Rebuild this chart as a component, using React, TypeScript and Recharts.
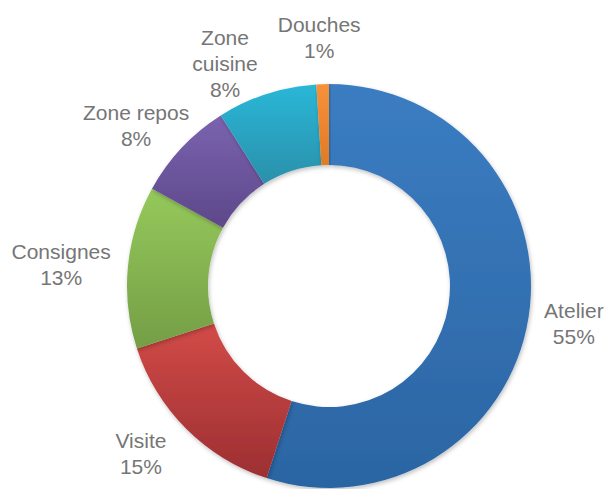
import { PieChart, Pie, Cell } from "recharts";

const categories = ["Atelier", "Visite", "Consignes", "Zone repos", "Zone cuisine", "Douches"];
const shares = [55, 15, 13, 8, 8, 1];
const pctLabels = ["55%", "15%", "13%", "8%", "8%", "1%"];
// label lines (Zone cuisine is wrapped on two lines in the source)
const labelLines = [["Atelier"], ["Visite"], ["Consignes"], ["Zone repos"], ["Zone", "cuisine"], ["Douches"]];
const topColors = ["#3b7dc2", "#d24b47", "#95c95b", "#7b63b0", "#2bb7d8", "#f7913a"];
const bottomColors = ["#2b65a3", "#9c2f32", "#749e45", "#5d4889", "#2b90aa", "#e07b25"];

const data = categories.map((name, i) => ({ name, value: shares[i] }));

const RAD = Math.PI / 180;
const FONT = 21;
const LINE = 26;
// hand-placed labels in the source, small nudges from the radial spot
const nudge = [[-7, -3], [-12, -9], [1, 3], [-5, 15], [-27, 14], [-2, 0]];

function renderLabel(props: any) {
  const { cx, cy, midAngle, index } = props;
  const lines = [...labelLines[index], pctLabels[index]];
  const longest = Math.max(...lines.map(l => l.length));
  const halfW = longest * FONT * 0.5 / 2;
  const c = Math.cos(-midAngle * RAD);
  const s = Math.sin(-midAngle * RAD);
  const r = 249 + Math.max(0, halfW * Math.abs(c) - 32) * 1.4;
  const x = cx + r * c + nudge[index][0];
  const y = cy + r * s + nudge[index][1];
  const top = y - ((lines.length - 1) * LINE) / 2;
  return (
    <text x={x} y={top} textAnchor="middle" dominantBaseline="central"
          fill="#767676" fontSize={FONT} fontFamily="'Liberation Sans', Arial, sans-serif">
      {lines.map((l, i) => (
        <tspan key={i} x={x} y={top + i * LINE} dominantBaseline="central">{l}</tspan>
      ))}
    </text>
  );
}

export default function App() {
  return (
    <div style={{ position: "fixed", left: 0, top: 0, width: 606, height: 489, background: "#fff" }}>
      <PieChart width={606} height={489} margin={{ top: 0, right: 0, bottom: 0, left: 0 }}>
        <defs>
          {categories.map((c, i) => (
            <linearGradient key={c} id={`slice-${i}`} x1="0" y1="0" x2="0" y2="1">
              <stop offset="0%" stopColor={topColors[i]} />
              <stop offset="100%" stopColor={bottomColors[i]} />
            </linearGradient>
          ))}
          <filter id="ringShadow" x="-10%" y="-10%" width="120%" height="120%">
            <feDropShadow dx="1" dy="2" stdDeviation="2" floodColor="#000" floodOpacity="0.25" />
          </filter>
        </defs>
        <Pie data={data} dataKey="value" nameKey="name" cx={329} cy={286}
             innerRadius={121} outerRadius={202} startAngle={90} endAngle={-270}
             stroke="none" label={renderLabel} labelLine={false}
             isAnimationActive={false} style={{ filter: "url(#ringShadow)" }}>
          {data.map((d, i) => (
            <Cell key={d.name} fill={`url(#slice-${i})`} stroke="none" />
          ))}
        </Pie>
      </PieChart>
    </div>
  );
}
